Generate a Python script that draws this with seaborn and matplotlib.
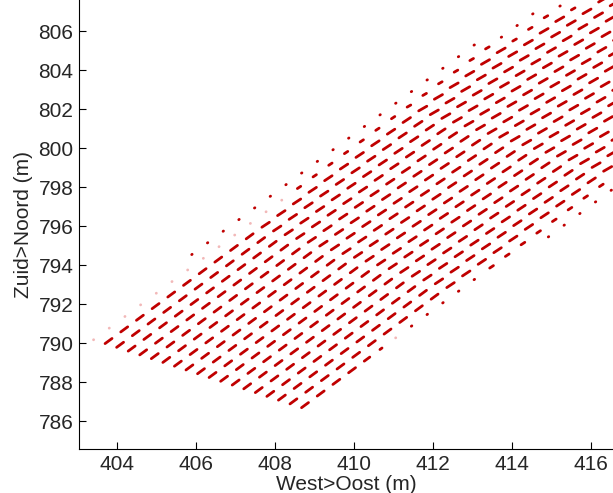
import numpy as np
import pandas as pd
import seaborn as sns
import matplotlib.pyplot as plt

# model grid (m)
grid_origin = (403.70, 789.99)     # column 0, row 0 (lower left corner of the wet area)
step_across = (0.2926, -0.1932)    # one grid column towards the right bank
step_along = (0.397, 0.596)        # one grid row up the channel
n_rows = 40
n_cols = 19                        # columns 0 .. 18 (plus the bank columns -1, -2)

# flow vector at full speed per block of rows (axis units); it turns slowly with the channel
flow_rows = [0, 10, 20]
flow_u = [0.176, 0.190, 0.206]
flow_v = [0.262, 0.254, 0.239]

# left bank, per block of rows: column of the small dot (None = no dot) and
# speed of the column just inside it
bank_rows = [0, 7, 13, 26, 29]
bank_dot_col = [-1, -2, -2, -1, 0]
bank_dot_show = [False, True, True, True, True]
bank_next_speed = [0.02, 0.02, 0.45, 0.45, 0.45]
dot_speed = 0.06

# right bank: column 17 rows 0 .. 11, then short vectors; column 18 has dots from row 15
right_bank_speed = [1, 1, 1, 1, 0.8, 0.3, 0.02, 0.08, 0.08, 0.08, 0.08, 0.08]
right_bank_upper = 0.5
outer_col_first_row = 15


def block(rows, r):
    return max(k for k, r0 in enumerate(rows) if r >= r0)


def speed_at(c, r):
    k = block(bank_rows, r)
    dc = bank_dot_col[k]
    if c < dc:
        return None
    if c == dc:
        if bank_dot_show[k]:
            return dot_speed
        return bank_next_speed[k] if c == -1 else None
    if c == dc + 1:
        return bank_next_speed[k] if not (c == 0 and k == 0) else 1.0
    if c == 17:
        return right_bank_speed[r] if r < len(right_bank_speed) else right_bank_upper
    if c == 18:
        return dot_speed if r >= outer_col_first_row else None
    return 1.0


def build_segments():
    recs = []
    seg = 0
    for c in range(-2, n_cols):
        for r in range(n_rows):
            sp = speed_at(c, r)
            if sp is None:
                continue
            k = block(flow_rows, r)
            x0 = grid_origin[0] + c * step_across[0] + r * step_along[0]
            y0 = grid_origin[1] + c * step_across[1] + r * step_along[1]
            kind = 'faint' if sp < 0.05 else 'flow'
            recs.append((seg, kind, x0, y0))
            recs.append((seg, kind, x0 + sp * flow_u[k], y0 + sp * flow_v[k]))
            seg += 1
    return pd.DataFrame(recs, columns=['seg', 'kind', 'x', 'y'])


def make_plot():
    sns.set_style('ticks')
    plt.rcParams['font.family'] = ['Liberation Sans', 'DejaVu Sans']
    plt.rcParams['xtick.direction'] = 'in'
    plt.rcParams['ytick.direction'] = 'in'

    df = build_segments()

    fig = plt.figure(figsize=(6.13, 4.93), dpi=100)
    ax = fig.add_axes([79 / 613, 44 / 493, 1 - 79 / 613, 1 - 44 / 493])
    sns.lineplot(data=df, x='x', y='y', units='seg', hue='kind',
                 palette={'flow': '#c00000', 'faint': '#f2b8b8'},
                 estimator=None, sort=False, legend=False, linewidth=2.0, ax=ax)

    ax.set_xlim(403.04, 416.56)
    ax.set_ylim(784.59, 807.59)
    ax.set_xticks(range(404, 417, 2))
    ax.set_yticks(range(786, 807, 2))
    ax.tick_params(labelsize=15, length=5, width=0.8, color='black', pad=4)
    ax.set_xlabel('West>Oost (m)', fontsize=15, labelpad=1)
    ax.set_ylabel('Zuid>Noord (m)', fontsize=15, labelpad=4)
    sns.despine(ax=ax)
    for s in ['left', 'bottom']:
        ax.spines[s].set_color('black')
        ax.spines[s].set_linewidth(0.8)

    fig.savefig('out.png', dpi=100)
    plt.close(fig)


if __name__ == "__main__":
    make_plot()
